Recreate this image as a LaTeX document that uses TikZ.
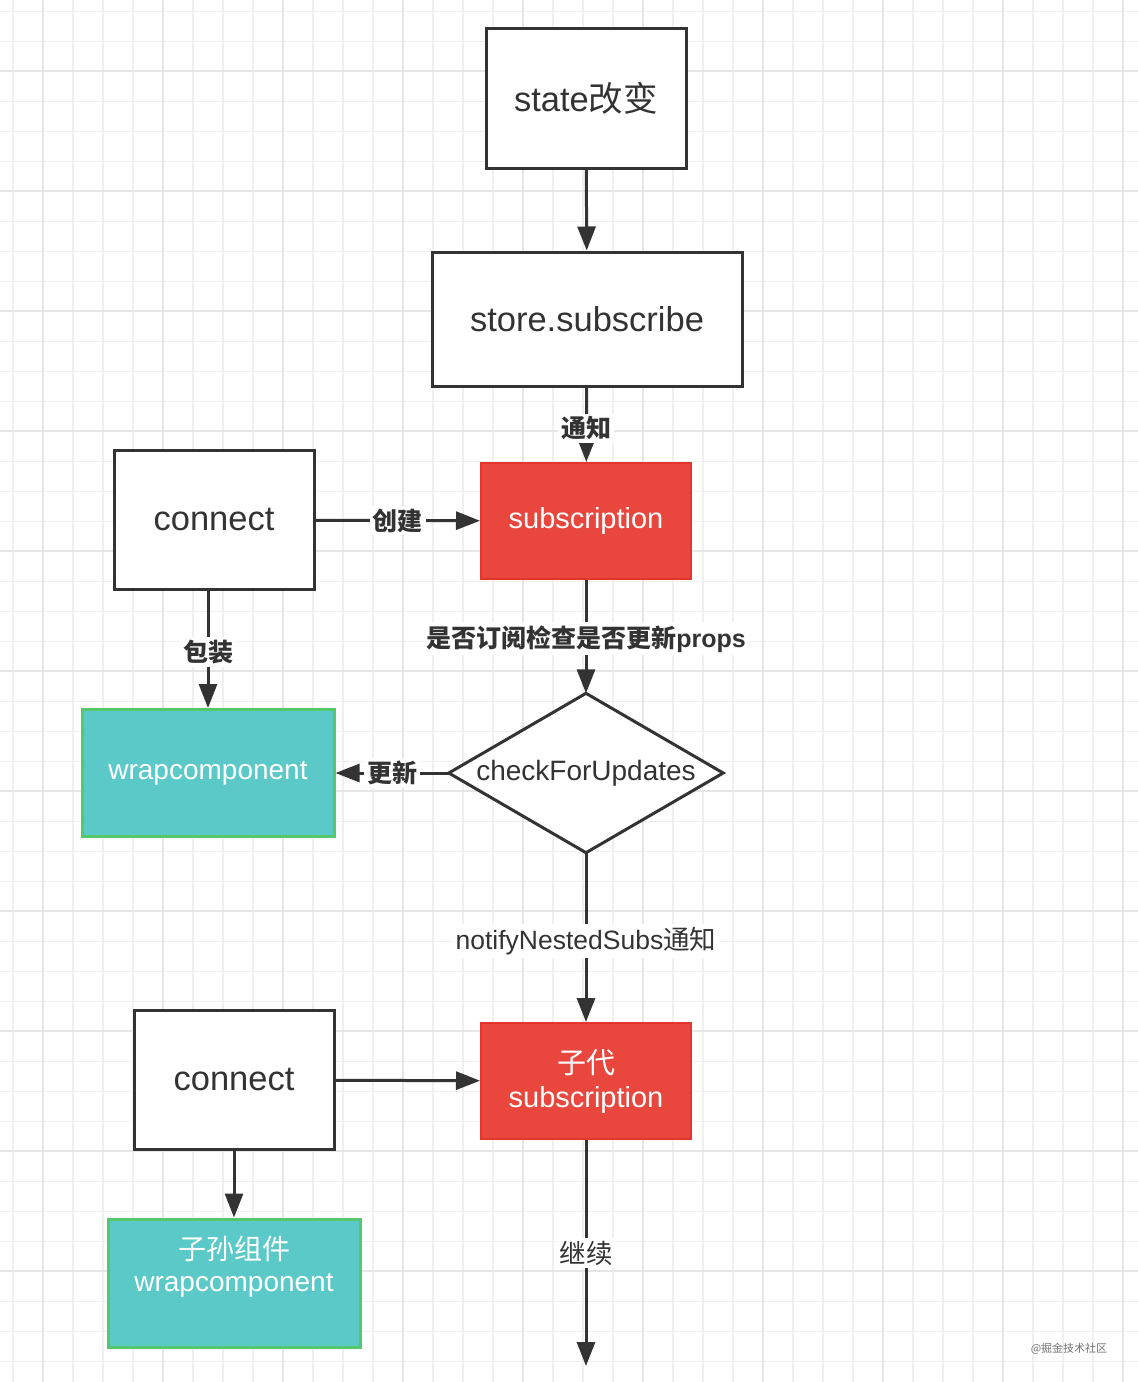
\documentclass[tikz,border=0pt]{standalone}
\usepackage{fontspec}
\setmainfont{Liberation Sans}
\newfontfamily\cjk{Noto Sans CJK SC}
\usetikzlibrary{arrows.meta}
\definecolor{ink}{HTML}{333333}
\definecolor{gridminor}{HTML}{F0F0F0}
\definecolor{gridmajor}{HTML}{E6E6E6}
\definecolor{redfill}{HTML}{E9473E}
\definecolor{redline}{HTML}{E2352D}
\definecolor{tealfill}{HTML}{5BC9C8}
\definecolor{greenline}{HTML}{55C76C}
\tikzset{
  plainbox/.style={draw=ink, line width=3pt, fill=white, inner sep=0pt, text=ink, font=\fontsize{34.5}{40}\selectfont},
  redbox/.style={draw=redline, line width=2pt, fill=redfill, inner sep=0pt, text=white, font=\fontsize{29}{34}\selectfont, minimum width=210pt, minimum height=116pt, align=center},
  tealbox/.style={draw=greenline, line width=3pt, fill=tealfill, inner sep=0pt, text=white, font=\fontsize{28}{32}\selectfont, minimum width=252pt, align=center},
  flow/.style={draw=ink, line width=3pt, -{Triangle[length=24pt 0 0,width=18pt 0 0]}},
  lbl/.style={fill=white, inner sep=3pt, text=ink, font=\fontsize{25}{28}\selectfont\bfseries},
  lbln/.style={fill=white, inner sep=3pt, text=ink, font=\fontsize{26.5}{30}\selectfont},
}
\begin{document}
\begin{tikzpicture}[x=1pt,y=-1pt]
\useasboundingbox (0,0) rectangle (1138,1382);
\fill[white] (0,0) rectangle (1138,1382);
% grid
\foreach \i in {0,...,37} {\draw[gridminor, line width=1.5pt] ({13+30*\i},0) -- ({13+30*\i},1382);}
\foreach \j in {0,...,46} {\draw[gridminor, line width=1.5pt] (0,{11.7+30*\j}) -- (1138,{11.7+30*\j});}
\foreach \i in {0,...,9} {\draw[gridmajor, line width=2pt] ({43+120*\i},0) -- ({43+120*\i},1382);}
\foreach \j in {0,...,11} {\draw[gridmajor, line width=2pt] (0,{71+120*\j}) -- (1138,{71+120*\j});}

% nodes
\node[plainbox, minimum width=200pt, minimum height=140pt] (state) at (586,98) {state{\cjk 改变}};
\node[plainbox, minimum width=310pt, minimum height=134pt] (store) at (587,319) {store.subscribe};
\node[redbox] (sub) at (586,521) {subscription};
\node[plainbox, minimum width=200pt, minimum height=139pt] (conn1) at (214,520) {connect};
\node[tealbox, minimum height=127pt] (wrap1) at (208,773) {wrapcomponent};
\node[minimum width=274pt, minimum height=159pt, inner sep=0pt] (check) at (586,773) {};
\draw[draw=ink, line width=3pt, fill=white, line join=miter] (check.north) -- (check.east) -- (check.south) -- (check.west) -- cycle;
\node[text=ink, font=\fontsize{28}{32}\selectfont] (checkt) at (check.center) {checkForUpdates};
\node[redbox] (sub2) at (586,1081) {{\cjk 子代}\\subscription};
\node[plainbox, minimum width=200pt, minimum height=139pt] (conn2) at (234,1080) {connect};
\node[tealbox, minimum height=128pt] (wrap2) at (234,1283) {};
\node[text=white, font=\fontsize{28}{32}\selectfont, align=center] (wrap2t) at (234,1267) {{\cjk 子孙组件}\\wrapcomponent};
\coordinate (endpt) at (586,1366);
\node[text=black!55, font=\fontsize{11}{13}\selectfont\cjk] (mark) at (1069,1349) {@掘金技术社区};

% connectors
\draw[flow] (state) -- (store);
\draw[flow] (store) -- node[lbl, pos=0.55]{\cjk 通知} (sub);
\draw[flow] (conn1) -- node[lbl]{\cjk 创建} (sub);
\draw[flow] (conn1.south -| wrap1.north) -- node[lbl, pos=0.52]{\cjk 包装} (wrap1.north);
\draw[flow] (sub) -- node[lbl, pos=0.52]{{\cjk 是否订阅检查是否更新}props} (check.north);
\draw[flow] (check.west) -- node[lbl]{\cjk 更新} (wrap1);
\draw[flow] (check.south) -- node[lbln, pos=0.52]{notifyNestedSubs{\cjk 通知}} (sub2);
\draw[flow] (conn2) -- (sub2);
\draw[flow] (conn2) -- (wrap2);
\draw[flow] (sub2) -- node[lbln]{\cjk 继续} (endpt);
\end{tikzpicture}
\end{document}
